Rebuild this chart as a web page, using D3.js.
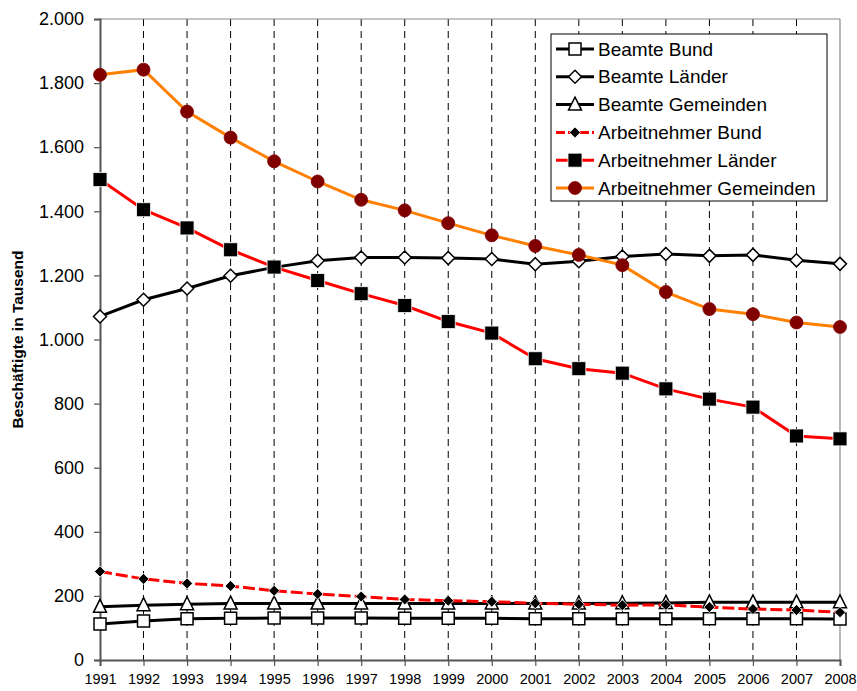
<!DOCTYPE html>
<html>
<head>
<meta charset="utf-8">
<script src="https://cdn.jsdelivr.net/npm/d3@7/dist/d3.min.js"></script>
<style>
  html, body { margin: 0; padding: 0; background: #fff; }
  svg { display: block; font-family: Arial, "Liberation Sans", sans-serif; }
</style>
</head>
<body>
<svg id="chart" width="857" height="691"></svg>
<script>
// Beschäftigte im öffentlichen Dienst (in Tausend), 1991–2008
const years = [1991,1992,1993,1994,1995,1996,1997,1998,1999,2000,2001,2002,2003,2004,2005,2006,2007,2008];

const beamteBund       = [112,122,129,130,131,131,131,130,130,130,129,129,129,129,129,129,129,128];
const beamteLaender    = [1072,1124,1159,1199,1225,1246,1256,1256,1254,1251,1235,1244,1259,1267,1261,1264,1247,1236];
const beamteGemeinden  = [166,171,174,176,176,176,176,176,176,176,176,176,177,178,180,180,180,180];
const anBund           = [276,253,239,231,216,206,198,189,185,182,177,174,171,172,165,159,156,149];
const anLaender        = [1499,1405,1348,1280,1226,1184,1143,1106,1056,1020,940,909,895,846,814,789,699,690];
const anGemeinden      = [1826,1842,1711,1630,1556,1493,1436,1403,1363,1325,1292,1264,1232,1148,1095,1079,1053,1039];

const yTicks = [0,200,400,600,800,1000,1200,1400,1600,1800,2000];
const yLabel = "Beschäftigte in Tausend";

const series = [
  { name: "Beamte Bund",           values: beamteBund,      line: "#000", dash: null,   marker: "square",   fill: "#fff", stroke: "#000", size: 12 },
  { name: "Beamte Länder",         values: beamteLaender,   line: "#000", dash: null,   marker: "diamond",  fill: "#fff", stroke: "#000", size: 13 },
  { name: "Beamte Gemeinden",      values: beamteGemeinden, line: "#000", dash: null,   marker: "triangle", fill: "#fff", stroke: "#000", size: 13 },
  { name: "Arbeitnehmer Bund",     values: anBund,          line: "#ff0000", dash: "12,4", marker: "diamond", fill: "#000", stroke: "#fff", size: 11 },
  { name: "Arbeitnehmer Länder",   values: anLaender,       line: "#ff0000", dash: null, marker: "square",   fill: "#000", stroke: "#fff", size: 14 },
  { name: "Arbeitnehmer Gemeinden",values: anGemeinden,     line: "#ff8000", dash: null, marker: "circle",   fill: "#800000", stroke: "#800000", size: 13 }
];

const svg = d3.select("#chart");
const margin = { left: 100, right: 17, top: 19, bottom: 31 };
const W = 857, H = 691;

const x = d3.scalePoint().domain(years).range([margin.left, W - margin.right]);
const y = d3.scaleLinear().domain([0, 2000]).range([H - margin.bottom, margin.top]);

const fmt = d3.formatLocale({ decimal: ",", thousands: ".", grouping: [3], currency: ["", " €"] }).format(",d");

// vertical dashed grid lines
svg.append("g")
  .selectAll("line")
  .data(years.slice(1, -1))
  .join("line")
  .attr("x1", d => x(d)).attr("x2", d => x(d))
  .attr("y1", y(2000)).attr("y2", y(0))
  .attr("stroke", "#000").attr("stroke-width", 1)
  .attr("stroke-dasharray", "7,5");

// frame: top and right
svg.append("line").attr("x1", x(1991)).attr("x2", x(2008)).attr("y1", y(2000)).attr("y2", y(2000))
  .attr("stroke", "#888").attr("stroke-width", 1.2);
svg.append("line").attr("x1", x(2008)).attr("x2", x(2008)).attr("y1", y(2000)).attr("y2", y(0))
  .attr("stroke", "#888").attr("stroke-width", 1.2);

// y axis
const yAxis = svg.append("g")
  .attr("transform", `translate(${x(1991)},0)`)
  .call(d3.axisLeft(y).tickValues(yTicks).tickFormat(fmt).tickSize(6).tickPadding(10));
yAxis.select(".domain").attr("stroke", "#555").attr("stroke-width", 2);
yAxis.selectAll(".tick line").attr("stroke", "#555").attr("stroke-width", 1.2);
yAxis.selectAll(".tick text").attr("font-size", 18).attr("fill", "#000")
  .attr("font-family", "Arial, 'Liberation Sans', sans-serif");

// x axis
const xAxis = svg.append("g")
  .attr("transform", `translate(0,${y(0)})`)
  .call(d3.axisBottom(x).tickFormat(d3.format("d")).tickSize(6).tickPadding(8));
xAxis.select(".domain").attr("stroke", "#555").attr("stroke-width", 2);
xAxis.selectAll(".tick line").attr("stroke", "#555").attr("stroke-width", 1.2);
xAxis.selectAll(".tick text").attr("font-size", 14.5).attr("fill", "#000")
  .attr("font-family", "Arial, 'Liberation Sans', sans-serif");

// y axis title
svg.append("text")
  .attr("transform", `translate(23,${(y(0) + y(2000)) / 2}) rotate(-90)`)
  .attr("text-anchor", "middle")
  .attr("font-size", 15.5).attr("font-weight", "bold")
  .text(yLabel);

// marker shapes
function markerPath(type, s) {
  const h = s / 2;
  switch (type) {
    case "square":   return `M${-h},${-h}H${h}V${h}H${-h}Z`;
    case "diamond":  return `M0,${-h}L${h},0L0,${h}L${-h},0Z`;
    case "triangle": return `M0,${-h - 1}L${h},${h - 1}L${-h},${h - 1}Z`;
    case "circle":   return d3.symbol(d3.symbolCircle, Math.PI * h * h)();
  }
}

const lineGen = d3.line().x((d, i) => x(years[i])).y(d => y(d));

series.forEach(s => {
  const g = svg.append("g");
  g.append("path")
    .datum(s.values)
    .attr("d", lineGen)
    .attr("fill", "none")
    .attr("stroke", s.line)
    .attr("stroke-width", 3)
    .attr("stroke-dasharray", s.dash);
  g.selectAll("path.m")
    .data(s.values)
    .join("path")
    .attr("class", "m")
    .attr("transform", (d, i) => `translate(${x(years[i])},${y(d)})`)
    .attr("d", markerPath(s.marker, s.size))
    .attr("fill", s.fill)
    .attr("stroke", s.stroke)
    .attr("stroke-width", s.fill === "#fff" ? 1.5 : 0.8);
});

// legend
const lg = svg.append("g").attr("transform", "translate(551,34)");
lg.append("rect").attr("width", 276).attr("height", 167)
  .attr("fill", "#fff").attr("stroke", "#000").attr("stroke-width", 1);
series.forEach((s, i) => {
  const cy = 15 + i * 27.8;
  lg.append("line").attr("x1", 5).attr("x2", 43).attr("y1", cy).attr("y2", cy)
    .attr("stroke", s.line).attr("stroke-width", 3)
    .attr("stroke-dasharray", s.dash ? "9,3" : null);
  lg.append("path").attr("transform", `translate(24,${cy})`)
    .attr("d", markerPath(s.marker, s.size))
    .attr("fill", s.fill).attr("stroke", s.stroke)
    .attr("stroke-width", s.fill === "#fff" ? 1.5 : 0.8);
  lg.append("text").attr("x", 47).attr("y", cy).attr("dy", "0.35em")
    .attr("font-size", 19).text(s.name);
});
</script>
</body>
</html>
